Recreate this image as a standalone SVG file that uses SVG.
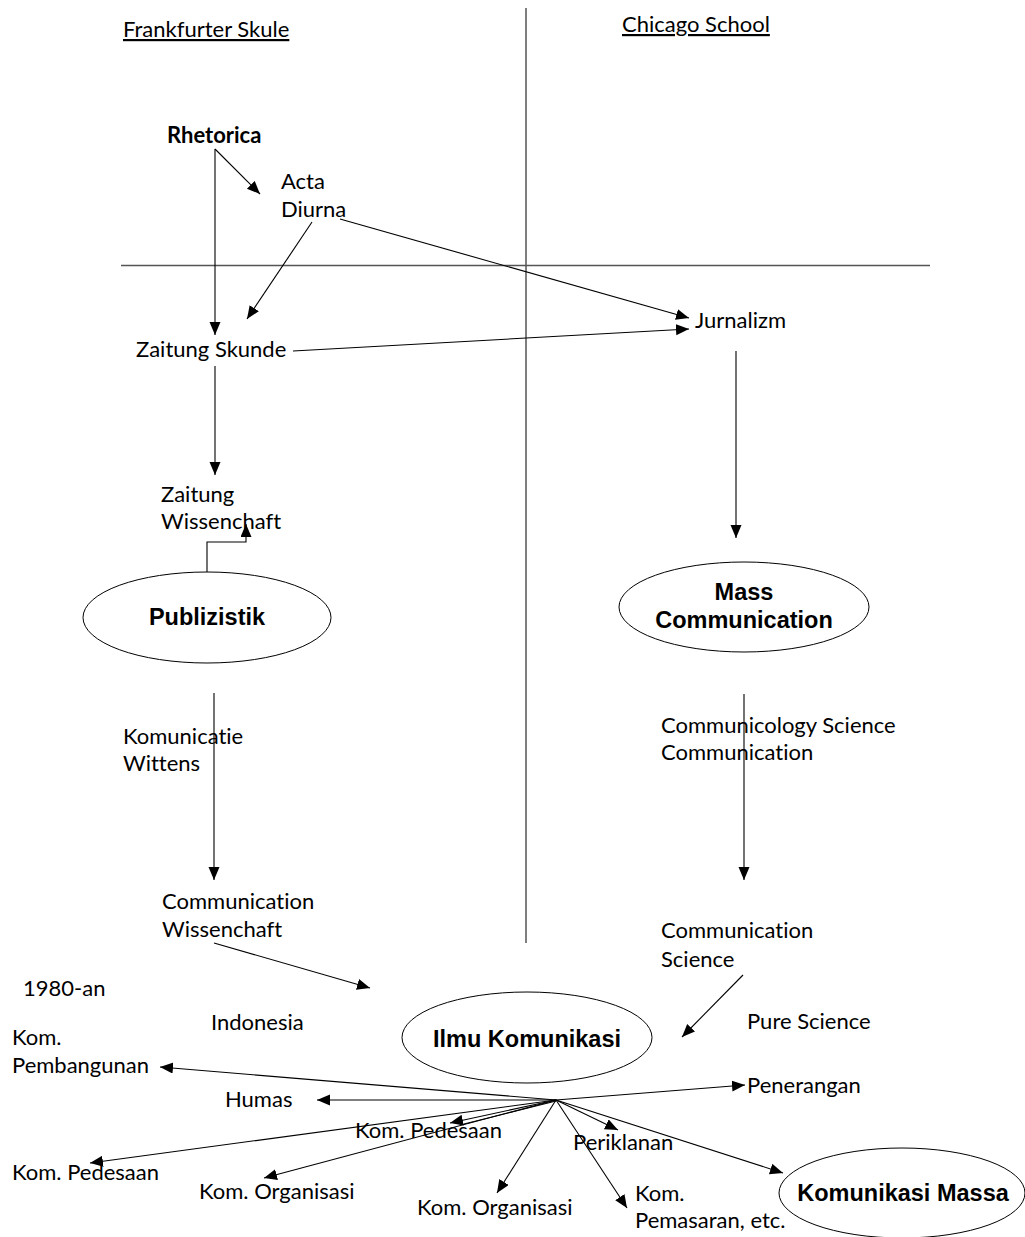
<svg xmlns="http://www.w3.org/2000/svg" width="1025" height="1237" viewBox="0 0 1025 1237">
<defs>
<marker id="ah" markerUnits="userSpaceOnUse" markerWidth="16" markerHeight="14" refX="13" refY="5.5" orient="auto">
<path d="M0,0 L13,5.5 L0,11 Z" fill="#000"/>
</marker>
<style>
.t{font-family:Lato,"Liberation Sans",sans-serif;font-size:22px;fill:#000;font-variant-ligatures:none}
.tb{font-family:Lato,"Liberation Sans",sans-serif;font-size:22px;font-weight:bold;fill:#000;font-variant-ligatures:none}
.u{text-decoration:underline}
.e{font-family:"Liberation Sans",Arial,sans-serif;font-size:23.5px;font-weight:bold;fill:#000;text-anchor:middle}
.ell{fill:#fff;stroke:#000;stroke-width:1}
.c{stroke:#000;stroke-width:1.1;fill:none}
.ca{stroke:#000;stroke-width:1.1;fill:none;marker-end:url(#ah)}
.sep{stroke:#555;stroke-width:1.5}
</style>
</defs>
<rect width="1025" height="1237" fill="#fff"/>
<g id="axes">
<line class="sep" x1="526" y1="8" x2="526" y2="943"/>
<line class="sep" x1="121" y1="265.5" x2="930" y2="265.5"/>
</g>
<g id="titles">
<text class="t u" x="123" y="37">Frankfurter Skule</text>
<text class="t u" x="622" y="32">Chicago School</text>
</g>
<g id="connectors">
<line class="ca" x1="215" y1="149" x2="260" y2="194"/>
<line class="ca" x1="215" y1="149" x2="215" y2="335"/>
<line class="ca" x1="312" y1="222" x2="247" y2="319"/>
<line class="ca" x1="340" y1="219" x2="689" y2="318"/>
<line class="ca" x1="293" y1="351" x2="689" y2="329"/>
<line class="ca" x1="215" y1="366" x2="215" y2="475"/>
<polyline class="ca" points="207,572 207,542 246,542 246,524"/>
<line class="ca" x1="736" y1="351" x2="736" y2="538"/>
<line class="ca" x1="214" y1="693" x2="214" y2="880"/>
<line class="ca" x1="744" y1="694" x2="744" y2="880"/>
<line class="ca" x1="214" y1="943" x2="370" y2="988"/>
<line class="ca" x1="743" y1="975" x2="682" y2="1037"/>
<line class="ca" x1="556" y1="1100" x2="160" y2="1067"/>
<line class="ca" x1="556" y1="1100" x2="317" y2="1100"/>
<line class="ca" x1="556" y1="1100" x2="90" y2="1163"/>
<line class="ca" x1="556" y1="1100" x2="264" y2="1178"/>
<line class="ca" x1="556" y1="1100" x2="450" y2="1123"/>
<line class="c" x1="556" y1="1101" x2="460" y2="1125"/>
<line class="ca" x1="556" y1="1100" x2="497" y2="1193"/>
<line class="ca" x1="556" y1="1100" x2="627" y2="1208"/>
<line class="ca" x1="556" y1="1100" x2="618" y2="1130"/>
<line class="ca" x1="556" y1="1100" x2="783" y2="1173"/>
<line class="ca" x1="556" y1="1100" x2="745" y2="1085"/>
</g>
<g id="rhetorica"><text class="tb" x="167" y="143">Rhetorica</text></g>
<g id="acta-diurna"><text class="t" x="281" y="189">Acta</text><text class="t" x="281" y="217">Diurna</text></g>
<g id="zaitung-skunde"><text class="t" x="136" y="357">Zaitung Skunde</text></g>
<g id="jurnalizm"><text class="t" x="695" y="328">Jurnalizm</text></g>
<g id="zaitung-wissenchaft"><text class="t" x="161" y="502">Zaitung</text><text class="t" x="161" y="529">Wissenchaft</text></g>
<g id="publizistik"><ellipse class="ell" cx="207" cy="617.5" rx="124" ry="45.5"/><text class="e" x="207" y="625">Publizistik</text></g>
<g id="mass-communication"><ellipse class="ell" cx="744" cy="607" rx="125" ry="45"/><text class="e" x="744" y="600">Mass</text><text class="e" x="744" y="628">Communication</text></g>
<g id="komunicatie-wittens"><text class="t" x="123" y="744">Komunicatie</text><text class="t" x="123" y="771">Wittens</text></g>
<g id="communicology"><text class="t" x="661" y="733">Communicology Science</text><text class="t" x="661" y="760">Communication</text></g>
<g id="communication-wissenchaft"><text class="t" x="162" y="909">Communication</text><text class="t" x="162" y="937">Wissenchaft</text></g>
<g id="communication-science"><text class="t" x="661" y="938">Communication</text><text class="t" x="661" y="967">Science</text></g>
<g id="year"><text class="t" x="23" y="996">1980-an</text></g>
<g id="indonesia"><text class="t" x="211" y="1030">Indonesia</text></g>
<g id="pure-science"><text class="t" x="747" y="1029">Pure Science</text></g>
<g id="ilmu-komunikasi"><ellipse class="ell" cx="527" cy="1037.5" rx="125" ry="45.5"/><text class="e" x="527" y="1047">Ilmu Komunikasi</text></g>
<g id="kom-pembangunan"><text class="t" x="12" y="1045">Kom.</text><text class="t" x="12" y="1073">Pembangunan</text></g>
<g id="humas"><text class="t" x="225" y="1107">Humas</text></g>
<g id="penerangan"><text class="t" x="747" y="1093">Penerangan</text></g>
<g id="kom-pedesaan-2"><text class="t" x="355" y="1138">Kom. Pedesaan</text></g>
<g id="periklanan"><text class="t" x="573" y="1150">Periklanan</text></g>
<g id="kom-pedesaan-1"><text class="t" x="12" y="1180">Kom. Pedesaan</text></g>
<g id="kom-organisasi-1"><text class="t" x="199" y="1199">Kom. Organisasi</text></g>
<g id="kom-organisasi-2"><text class="t" x="417" y="1215">Kom. Organisasi</text></g>
<g id="kom-pemasaran"><text class="t" x="635" y="1201">Kom.</text><text class="t" x="635" y="1228">Pemasaran, etc.</text></g>
<g id="komunikasi-massa"><ellipse class="ell" cx="902" cy="1193" rx="123" ry="45"/><text class="e" x="903" y="1201">Komunikasi Massa</text></g>
</svg>
